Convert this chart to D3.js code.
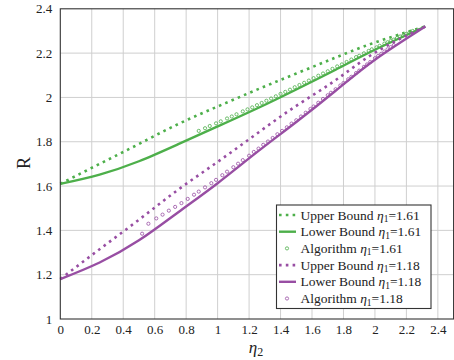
<!DOCTYPE html>
<html>
<head>
<meta charset="utf-8">
<script src="https://cdn.jsdelivr.net/npm/d3@7"></script>
<style>
  body { margin: 0; background: #fff; }
</style>
</head>
<body>
<div class="canvas"></div>
<script>
// data
let xTicks = [0, 0.2, 0.4, 0.6, 0.8, 1, 1.2, 1.4, 1.6, 1.8, 2, 2.2, 2.4];
let yTicks = [1, 1.2, 1.4, 1.6, 1.8, 2, 2.2, 2.4];

let boundX = [0, 0.25, 0.5, 0.75, 1.0, 1.25, 1.5, 1.75, 2.0, 2.32];
let upper161 = [1.61, 1.70, 1.79, 1.88, 1.959, 2.035, 2.108, 2.180, 2.248, 2.32];
let lower161 = [1.61, 1.652, 1.712, 1.789, 1.869, 1.950, 2.036, 2.125, 2.215, 2.32];
let upper118 = [1.18, 1.315, 1.448, 1.584, 1.709, 1.837, 1.962, 2.078, 2.202, 2.32];
let lower118 = [1.18, 1.255, 1.355, 1.482, 1.613, 1.753, 1.889, 2.030, 2.170, 2.32];

let algX161 = [0.88, 0.92, 0.95, 0.99, 1.02, 1.06, 1.09, 1.12, 1.16, 1.19, 1.22, 1.25, 1.28, 1.31, 1.34, 1.37,
  1.40, 1.43, 1.46, 1.49, 1.52, 1.55, 1.58, 1.61, 1.64, 1.67, 1.70, 1.73, 1.76, 1.79, 1.82, 1.85, 1.88,
  1.90, 1.93, 1.96, 1.98, 2.01, 2.03, 2.06, 2.08, 2.10, 2.12, 2.14, 2.16, 2.18, 2.20, 2.22, 2.24];
let algY161 = [1.849, 1.861, 1.871, 1.883, 1.892, 1.905, 1.914, 1.924, 1.937, 1.946, 1.955, 1.965, 1.975,
  1.985, 1.995, 2.005, 2.016, 2.025, 2.035, 2.046, 2.056, 2.066, 2.076, 2.087, 2.098, 2.108, 2.118, 2.129,
  2.140, 2.149, 2.160, 2.171, 2.182, 2.188, 2.199, 2.210, 2.217, 2.226, 2.233, 2.243, 2.249, 2.255, 2.261,
  2.268, 2.275, 2.280, 2.287, 2.293, 2.300];

let algX118 = [0.52, 0.56, 0.61, 0.65, 0.69, 0.73, 0.77, 0.81, 0.85, 0.88, 0.92, 0.96, 0.99, 1.03, 1.06, 1.10,
  1.13, 1.16, 1.20, 1.23, 1.26, 1.29, 1.32, 1.35, 1.38, 1.41, 1.44, 1.47, 1.50, 1.53, 1.56, 1.59, 1.61, 1.64,
  1.67, 1.70, 1.72, 1.75, 1.78, 1.80, 1.83, 1.85, 1.88, 1.90, 1.93, 1.95, 1.97, 2.00, 2.02, 2.04, 2.06, 2.08,
  2.10, 2.12];
let algY118 = [1.385, 1.430, 1.454, 1.471, 1.489, 1.506, 1.523, 1.542, 1.561, 1.575, 1.594, 1.613, 1.628,
  1.649, 1.665, 1.685, 1.701, 1.717, 1.737, 1.754, 1.769, 1.786, 1.801, 1.817, 1.834, 1.849, 1.865, 1.882,
  1.897, 1.914, 1.931, 1.948, 1.959, 1.976, 1.993, 2.010, 2.021, 2.037, 2.054, 2.065, 2.082, 2.093, 2.110,
  2.121, 2.138, 2.149, 2.160, 2.177, 2.187, 2.197, 2.207, 2.217, 2.227, 2.236];

let green = '#4daf4a';
let purple = '#984ea3';
let serif = '"Liberation Serif", "Times New Roman", "DejaVu Serif", serif';

let svg = d3.select(".canvas").append("svg").attr("width", 454).attr("height", 360)
    .attr('font-family', serif);

let x = d3.scaleLinear().domain([0, 2.5]).range([60.3, 453.6]);
let y = d3.scaleLinear().domain([1, 2.4]).range([319, 8.8]);

// grid
svg.append('g').selectAll('line').data(xTicks.slice(1)).join('line')
    .attr('x1', d => x(d)).attr('x2', d => x(d))
    .attr('y1', y(1)).attr('y2', y(2.4))
    .attr('stroke', '#cfcfcf').attr('stroke-width', 1);
svg.append('g').selectAll('line').data(yTicks.slice(1, -1)).join('line')
    .attr('x1', x(0)).attr('x2', x(2.5))
    .attr('y1', d => y(d)).attr('y2', d => y(d))
    .attr('stroke', '#cfcfcf').attr('stroke-width', 1);

// axes (labels only, frame drawn below)
let xAxis = svg.append('g').attr('transform', 'translate(0,' + y(1) + ')')
    .call(d3.axisBottom(x).tickValues(xTicks).tickFormat(d3.format('')).tickSize(0).tickPadding(6));
let yAxis = svg.append('g').attr('transform', 'translate(' + x(0) + ',0)')
    .call(d3.axisLeft(y).tickValues(yTicks).tickFormat(d3.format('')).tickSize(0).tickPadding(8));
[xAxis, yAxis].forEach(a => {
    a.select('.domain').remove();
    a.attr('font-family', serif).attr('font-size', 13);
    a.selectAll('text').attr('fill', '#222');
});

let line = d3.line().x(d => x(d[0])).y(d => y(d[1])).curve(d3.curveNatural);

function drawLine(ys, color, dotted) {
    svg.append('path')
        .datum(boundX.map((v, i) => [v, ys[i]]))
        .attr('d', line)
        .attr('fill', 'none')
        .attr('stroke', color)
        .attr('stroke-width', dotted ? 2.6 : 2.4)
        .attr('stroke-dasharray', dotted ? '2.6,4.2' : null);
}

function drawDots(xs, ys, color) {
    svg.append('g').selectAll('circle').data(xs).join('circle')
        .attr('cx', d => x(d))
        .attr('cy', (d, i) => y(ys[i]))
        .attr('r', 1.6)
        .attr('fill', 'none')
        .attr('stroke', color)
        .attr('stroke-width', 0.8);
}

drawLine(upper161, green, true);
drawLine(lower161, green, false);
drawDots(algX161, algY161, green);
drawLine(upper118, purple, true);
drawLine(lower118, purple, false);
drawDots(algX118, algY118, purple);

// frame
svg.append('rect')
    .attr('x', x(0)).attr('y', y(2.4))
    .attr('width', x(2.5) - x(0)).attr('height', y(1) - y(2.4))
    .attr('fill', 'none').attr('stroke', '#333').attr('stroke-width', 1.1);

// axis titles
svg.append('text')
    .attr('transform', 'translate(30,163) rotate(-90)')
    .attr('text-anchor', 'middle')
    .attr('font-size', 18)
    .attr('fill', '#222')
    .text('R');

let xl = svg.append('text')
    .attr('x', 256).attr('y', 353)
    .attr('text-anchor', 'middle')
    .attr('font-size', 17)
    .attr('fill', '#222');
xl.append('tspan').attr('font-style', 'italic').text('η');
xl.append('tspan').attr('font-size', 12).attr('dy', 3).text('2');

// legend
let legendItems = [
    { name: 'Upper Bound ', val: '=1.61', color: green, kind: 'dot' },
    { name: 'Lower Bound ', val: '=1.61', color: green, kind: 'solid' },
    { name: 'Algorithm ', val: '=1.61', color: green, kind: 'circle' },
    { name: 'Upper Bound ', val: '=1.18', color: purple, kind: 'dot' },
    { name: 'Lower Bound ', val: '=1.18', color: purple, kind: 'solid' },
    { name: 'Algorithm ', val: '=1.18', color: purple, kind: 'circle' }
];

let lg = svg.append('g');
lg.append('rect')
    .attr('x', 276.5).attr('y', 205)
    .attr('width', 154.5).attr('height', 103.5)
    .attr('fill', '#fff').attr('stroke', '#333').attr('stroke-width', 1.1);

legendItems.forEach((d, i) => {
    let cy = 215 + i * 16.7;
    if (d.kind === 'circle') {
        lg.append('circle').attr('cx', 287).attr('cy', cy).attr('r', 1.6)
            .attr('fill', 'none').attr('stroke', d.color).attr('stroke-width', 0.8);
    } else {
        lg.append('line').attr('x1', 279).attr('x2', 296).attr('y1', cy).attr('y2', cy)
            .attr('stroke', d.color)
            .attr('stroke-width', d.kind === 'dot' ? 2.6 : 2.4)
            .attr('stroke-dasharray', d.kind === 'dot' ? '2.6,4.2' : null);
    }
    let t = lg.append('text').attr('x', 300.5).attr('y', cy + 4.5).attr('font-size', 13.5).attr('fill', '#222');
    t.append('tspan').text(d.name);
    t.append('tspan').attr('font-style', 'italic').text('η');
    t.append('tspan').attr('font-size', 9.5).attr('dy', 2.5).text('1');
    t.append('tspan').attr('dy', -2.5).text(d.val);
});
</script>
</body>
</html>
